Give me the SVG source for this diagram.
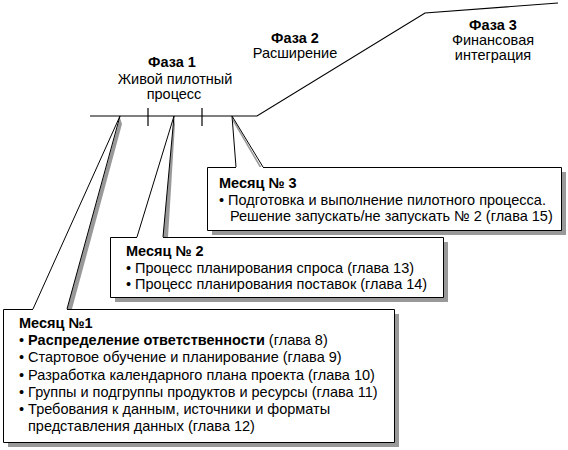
<svg xmlns="http://www.w3.org/2000/svg" width="568" height="450" viewBox="0 0 568 450">
<style>
text{font-family:"Liberation Sans",Arial,sans-serif;font-size:14.5px;fill:#000}
.b{font-weight:bold}
.c{text-anchor:middle}
.ln{stroke:#000;stroke-width:1.2;fill:none}
.sh{fill:#999;stroke:none}
.box{fill:#fff;stroke:none}
.out{fill:none;stroke:#000;stroke-width:1}
</style>
<rect width="568" height="450" fill="#fff"/>
<g id="timeline">
<polyline class="ln" points="90,116 257,116 425,13 558,3"/>
<line class="ln" x1="148" y1="108" x2="148" y2="126"/>
<line class="ln" x1="202" y1="108" x2="202" y2="126"/>
</g>
<g id="phase1">
<text class="b c" x="172" y="67">Фаза 1</text>
<text class="c" x="175" y="84">Живой пилотный</text>
<text class="c" x="174" y="99">процесс</text>
</g>
<g id="phase2">
<text class="b c" x="295" y="43">Фаза 2</text>
<text class="c" x="295" y="58">Расширение</text>
</g>
<g id="phase3">
<text class="b c" x="493" y="30">Фаза 3</text>
<text class="c" x="493" y="45">Финансовая</text>
<text class="c" x="493" y="60">интеграция</text>
</g>
<g id="connectors">
<polygon class="sh" points="120,118 122,124 72,309 67,309"/>
<polygon class="sh" points="174,118 175,124 168,237 163,237"/>
<line x1="233" y1="120" x2="261" y2="168" stroke="#999" stroke-width="1.5"/>
<line class="out" x1="120" y1="116" x2="33" y2="309"/>
<line class="out" x1="120" y1="116" x2="67" y2="309"/>
<line class="out" x1="174" y1="116" x2="137" y2="237"/>
<line class="out" x1="174" y1="116" x2="163" y2="237"/>
<line class="out" x1="232" y1="116" x2="236" y2="167"/>
<line class="out" x1="232" y1="116" x2="263" y2="167"/>
</g>
<g id="month3">
<rect class="sh" x="212" y="172" width="354" height="63"/>
<rect class="box" x="207" y="167" width="354" height="63"/>
<path class="out" d="M236,167.5 H207.5 V230.5 H561.5 V167.5 H263"/>
<text class="b" x="219" y="188">Месяц № 3</text>
<text x="219" y="205">• Подготовка и выполнение пилотного процесса.</text>
<text x="230" y="221">Решение запускать/не запускать № 2 (глава 15)</text>
</g>
<g id="month2">
<rect class="sh" x="115" y="242" width="333" height="60"/>
<rect class="box" x="110" y="237" width="333" height="60"/>
<path class="out" d="M137,237.5 H110.5 V297.5 H443.5 V237.5 H163"/>
<text class="b" x="126" y="256">Месяц № 2</text>
<text x="126" y="273">• Процесс планирования спроса (глава 13)</text>
<text x="126" y="289">• Процесс планирования поставок (глава 14)</text>
</g>
<g id="month1">
<rect class="sh" x="8" y="314" width="391" height="133"/>
<rect class="box" x="3" y="309" width="391" height="133"/>
<path class="out" d="M33,309.5 H3.5 V442.5 H394.5 V309.5 H67"/>
<text class="b" x="19" y="328">Месяц №1</text>
<text x="19" y="345">• <tspan class="b">Распределение ответственности</tspan> (глава 8)</text>
<text x="19" y="362">• Стартовое обучение и планирование (глава 9)</text>
<text x="19" y="380">• Разработка календарного плана проекта (глава 10)</text>
<text x="19" y="397">• Группы и подгруппы продуктов и ресурсы (глава 11)</text>
<text x="19" y="414">• Требования к данным, источники и форматы</text>
<text x="28" y="431">представления данных (глава 12)</text>
</g>
</svg>
